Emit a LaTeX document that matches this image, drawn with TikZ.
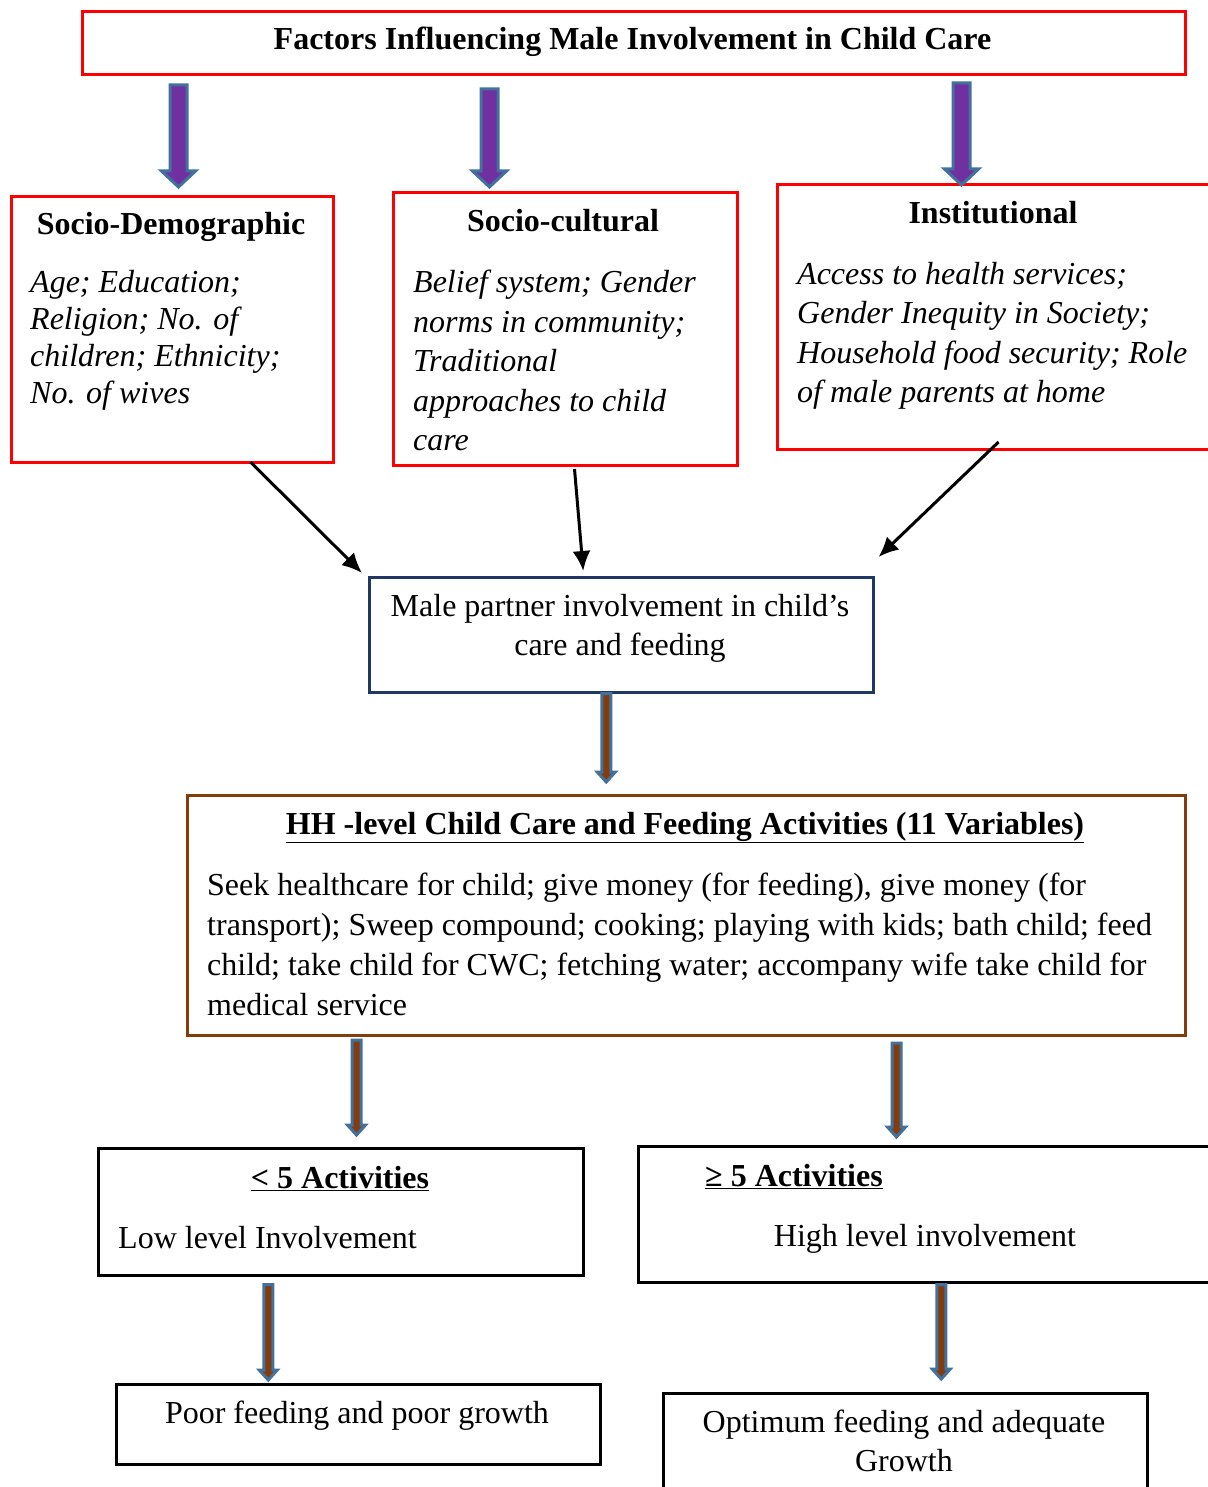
\documentclass[tikz,border=0pt]{standalone}
\usepackage{fontspec}
\setmainfont{Liberation Serif}
\usepackage{xcolor}
\usetikzlibrary{shapes,arrows.meta,calc}
\definecolor{boxred}{HTML}{FF0000}
\definecolor{boxnavy}{HTML}{1F3864}
\definecolor{boxbrown}{HTML}{843C0C}
\definecolor{arrowpurple}{HTML}{7030A0}
\definecolor{arrowblue}{HTML}{41719C}
\tikzstyle{box} = [rectangle, draw, line width=3pt, anchor=north west, inner sep=0pt]
\tikzstyle{head} = [font=\fontsize{32}{37}\selectfont\bfseries, anchor=base, inner sep=0pt]
\tikzstyle{body} = [font=\fontsize{32}{37}\selectfont, align=left, anchor=north west, inner sep=0pt]
\tikzstyle{line} = [draw, line width=3pt, -{Latex[length=20pt,width=18pt]}]
\tikzset{
  fatarrow/.style n args={3}{draw=arrowblue, line width=3pt, line join=miter,
    to path={let \p1=(\tikztostart), \p2=(\tikztotarget) in
      (\x1-#1pt,\y1) -- (\x1-#1pt,\y2+#3pt) -- (\x1-#2pt,\y2+#3pt) -- (\x1,\y2)
      -- (\x1+#2pt,\y2+#3pt) -- (\x1+#1pt,\y2+#3pt) -- (\x1+#1pt,\y1) -- cycle}},
  bigarrow/.style={fatarrow={8.5}{17}{16}, fill=arrowpurple},
  smallarrow/.style={fatarrow={4.5}{9}{10}, fill=boxbrown}
}

\begin{document}
\begin{tikzpicture}[x=1pt,y=-1pt]
\useasboundingbox (0,0) rectangle (1207,1487);
\node [box, draw=boxred, minimum width=1103pt, minimum height=63pt] (title) at (81,10) {};
\node [head] (title-text) at (632.5,50) {Factors Influencing Male Involvement in Child Care};

\node [box, draw=boxred, minimum width=322pt, minimum height=266pt] (sd) at (10,195) {};
\node [box, draw=boxred, minimum width=344pt, minimum height=273pt] (sc) at (392,191) {};
\node [box, draw=boxred, minimum width=464pt, minimum height=265pt] (inst) at (776,183) {};
\node [head] (sd-head) at (171,235) {Socio-Demographic};
\node [head] (sc-head) at (563,232) {Socio-cultural};
\node [head] (inst-head) at (993,224) {Institutional};
\node [body, font=\fontsize{32}{37}\selectfont\itshape] (sd-text) at (30,270)
  {Age; Education;\\Religion; No. of\\children; Ethnicity;\\No. of wives};
\node [body, font=\fontsize{32}{39.5}\selectfont\itshape] (sc-text) at (413,270)
  {Belief system; Gender\\norms in community;\\Traditional\\approaches to child\\care};
\node [body, font=\fontsize{32}{39.5}\selectfont\itshape] (inst-text) at (797,262)
  {Access to health services;\\Gender Inequity in Society;\\Household food security; Role\\of male parents at home};

\path [bigarrow] ([xshift=-455.5pt,yshift=-9pt]title.south) to ([yshift=8pt]sd.north);
\path [bigarrow] ([xshift=-144.5pt,yshift=-13pt]title.south) to ([yshift=4pt]sc.north);
\path [bigarrow] ([xshift=327.5pt,yshift=-7pt]title.south) to ([yshift=-2pt]inst.north);

\node [box, draw=boxnavy, line width=2.5pt, minimum width=504pt, minimum height=115pt] (male) at (368,576) {};
\node [body, align=center, anchor=north, font=\fontsize{32}{39}\selectfont] (male-text) at (620,594)
  {Male partner involvement in child’s\\care and feeding};
\path [line] ([xshift=78pt,yshift=2pt]sd.south) -- ([xshift=-6pt,yshift=3pt]male.north west);
\path [line] ([xshift=9pt,yshift=-2pt]sc.south) -- ([xshift=-38pt,yshift=5pt]male.north);
\path [line] ([xshift=-11pt,yshift=9pt]inst.south) -- ([xshift=4pt,yshift=19pt]male.north east);

\node [box, draw=boxbrown, minimum width=998pt, minimum height=240pt] (hh) at (186,794) {};
\node [head] (hh-head) at (685,834) {\underline{HH -level Child Care and Feeding Activities (11 Variables)}};
\node [body, font=\fontsize{32}{40}\selectfont] (hh-text) at (207,873)
  {Seek healthcare for child; give money (for feeding), give money (for\\transport); Sweep compound; cooking; playing with kids; bath child; feed\\child; take child for CWC; fetching water; accompany wife take child for\\medical service};
\path [smallarrow] ([xshift=-15pt]male.south) to ([yshift=12pt]hh.north);

\node [box, draw=black, line width=2.5pt, minimum width=485pt, minimum height=127pt] (low) at (97,1147) {};
\node [box, draw=black, line width=2.5pt, minimum width=603pt, minimum height=136pt] (high) at (637,1145) {};
\node [head] (low-head) at (340,1188) {\underline{< 5 Activities}};
\node [head, anchor=base west] (high-head) at (705,1186) {\underline{≥ 5 Activities}};
\node [body, anchor=base west] (low-text) at (118,1248) {Low level Involvement};
\node [body, anchor=base] (high-text) at (925,1246) {High level involvement};
\path [smallarrow] ([xshift=-330pt,yshift=-3pt]hh.south) to ([yshift=12pt]low.north);
\path [smallarrow] ([xshift=210pt,yshift=-6pt]hh.south) to ([yshift=8pt]high.north);

\node [box, draw=black, line width=2.5pt, minimum width=484pt, minimum height=80pt] (poor) at (115,1383) {};
\node [box, draw=black, line width=2.5pt, minimum width=484pt, minimum height=128pt] (opt) at (662,1392) {};
\node [body, anchor=base] (poor-text) at (357,1423) {Poor feeding and poor growth};
\node [body, align=center, anchor=north, font=\fontsize{32}{39}\selectfont] (opt-text) at (904,1410)
  {Optimum feeding and adequate\\Growth};
\path [smallarrow] ([xshift=-72.5pt,yshift=-8pt]low.south) to ([yshift=3pt]poor.north);
\path [smallarrow] ([xshift=1.5pt,yshift=-1pt]high.south) to ([yshift=13pt]opt.north);
\end{tikzpicture}
\end{document}
